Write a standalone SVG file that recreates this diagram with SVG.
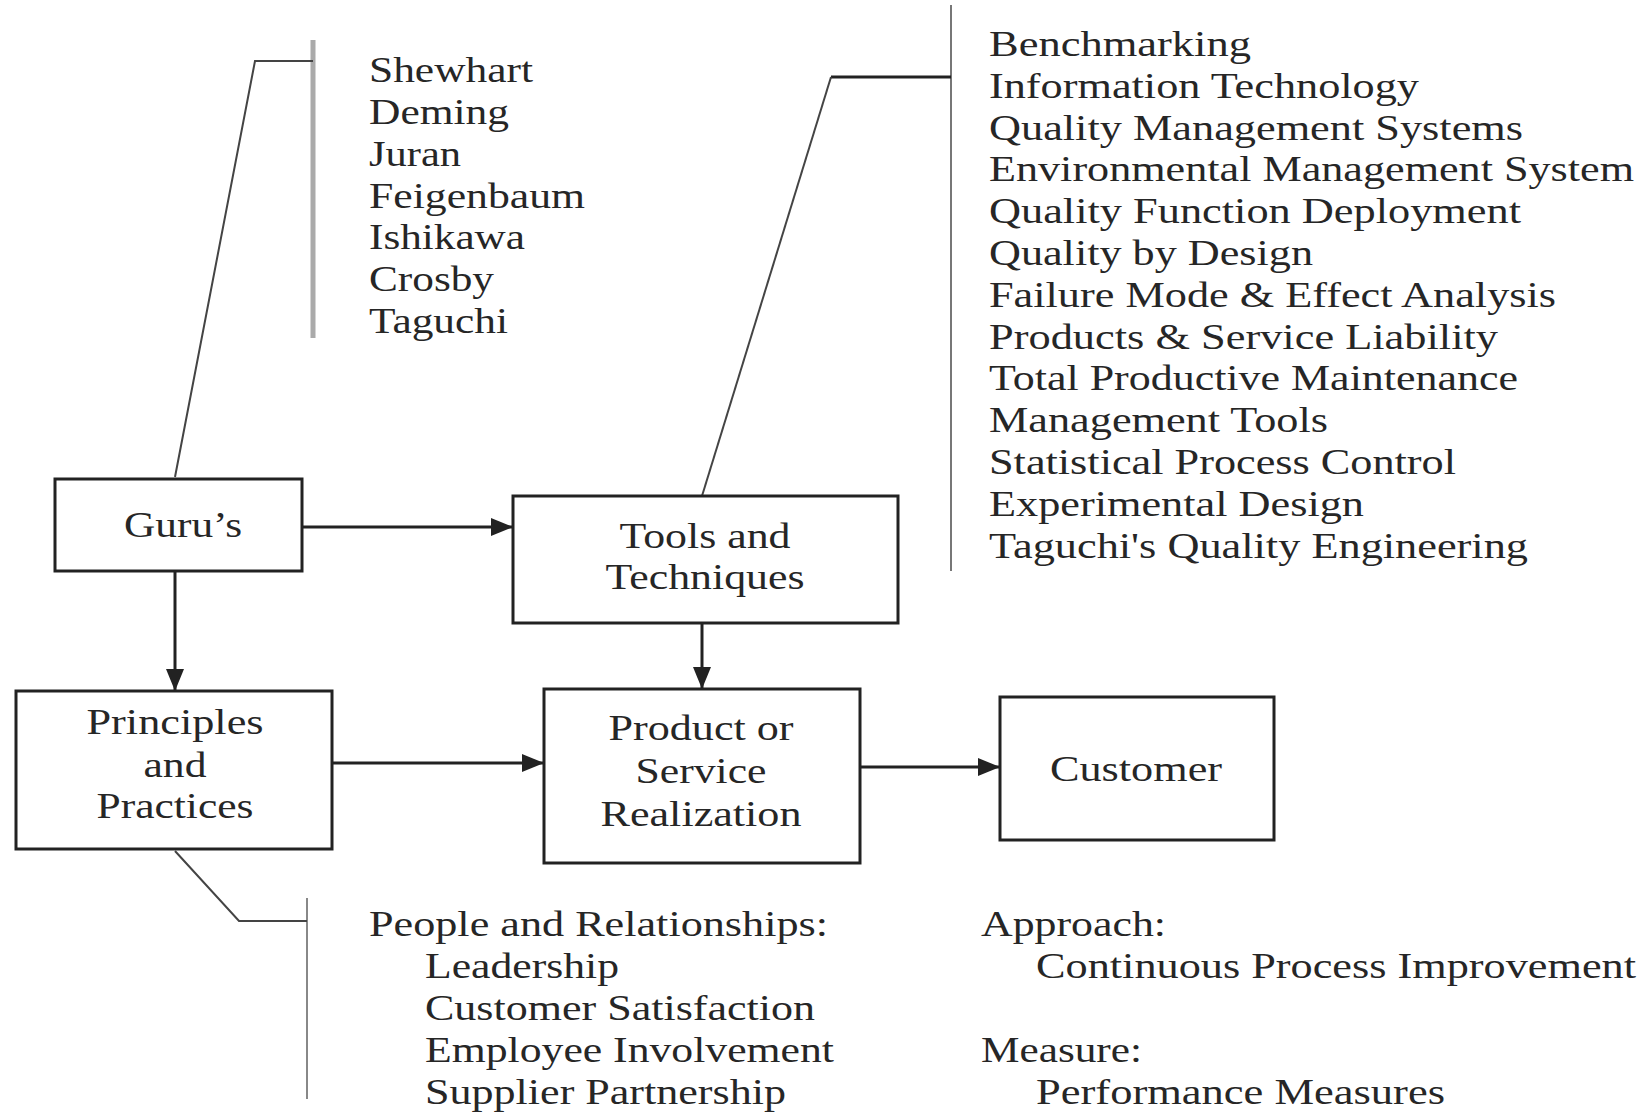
<svg xmlns="http://www.w3.org/2000/svg" width="1644" height="1115" viewBox="0 0 1644 1115">
<defs>
<marker id="arr" markerUnits="userSpaceOnUse" markerWidth="24" markerHeight="20" refX="22" refY="9" orient="auto">
<path d="M0,0 L22,9 L0,18 z" fill="#222"/>
</marker>
<style>
text{font-family:"Liberation Serif","Times New Roman",serif;font-size:36px;fill:#262626}
.mid{text-anchor:middle}
.box{fill:#fff;stroke:#222;stroke-width:3}
.conn{stroke:#222;stroke-width:3;fill:none}
.thin{stroke:#444;stroke-width:2;fill:none}
</style>
</defs>
<rect width="1644" height="1115" fill="#fff"/>

<g id="connectors">
<line class="conn" x1="302" y1="527" x2="513" y2="527" marker-end="url(#arr)"/>
<line class="conn" x1="175" y1="571" x2="175" y2="691" marker-end="url(#arr)"/>
<line class="conn" x1="702" y1="623" x2="702" y2="689" marker-end="url(#arr)"/>
<line class="conn" x1="332" y1="763" x2="544" y2="763" marker-end="url(#arr)"/>
<line class="conn" x1="860" y1="767" x2="1000" y2="767" marker-end="url(#arr)"/>
<!-- brackets -->
<line x1="313" y1="40" x2="313" y2="338" stroke="#aaa" stroke-width="5"/>
<polyline class="thin" points="313,61 255,61 175,477" stroke="#555"/>
<line x1="951" y1="5" x2="951" y2="571" stroke="#777" stroke-width="2"/>
<polyline points="951,77 831,77" stroke="#222" stroke-width="3" fill="none"/>
<line class="thin" x1="831" y1="77" x2="702" y2="496"/>
<line x1="307" y1="898" x2="307" y2="1099" stroke="#888" stroke-width="2"/>
<polyline class="thin" points="175,851 239,921 307,921" stroke="#666"/>
</g>

<g id="gurus">
<rect class="box" x="55" y="479" width="247" height="92"/>
<text class="mid" x="183" y="537" textLength="118" lengthAdjust="spacingAndGlyphs">Guru’s</text>
</g>

<g id="tools">
<rect class="box" x="513" y="496" width="385" height="127"/>
<text class="mid" x="705" y="548" textLength="171" lengthAdjust="spacingAndGlyphs">Tools and</text>
<text class="mid" x="705" y="589" textLength="199" lengthAdjust="spacingAndGlyphs">Techniques</text>
</g>

<g id="principles">
<rect class="box" x="16" y="691" width="316" height="158" stroke="#555"/>
<text class="mid" x="175" y="734" textLength="177" lengthAdjust="spacingAndGlyphs">Principles</text>
<text class="mid" x="175" y="777" textLength="63" lengthAdjust="spacingAndGlyphs">and</text>
<text class="mid" x="175" y="818" textLength="157" lengthAdjust="spacingAndGlyphs">Practices</text>
</g>

<g id="product">
<rect class="box" x="544" y="689" width="316" height="174"/>
<text class="mid" x="701" y="740" textLength="185" lengthAdjust="spacingAndGlyphs">Product or</text>
<text class="mid" x="701" y="783" textLength="131" lengthAdjust="spacingAndGlyphs">Service</text>
<text class="mid" x="701" y="826" textLength="201" lengthAdjust="spacingAndGlyphs">Realization</text>
</g>

<g id="customer">
<rect class="box" x="1000" y="697" width="274" height="143"/>
<text class="mid" x="1136" y="781" textLength="172" lengthAdjust="spacingAndGlyphs">Customer</text>
</g>

<g id="guru-list">
<text x="369" y="82" textLength="164" lengthAdjust="spacingAndGlyphs">Shewhart</text>
<text x="369" y="124" textLength="140" lengthAdjust="spacingAndGlyphs">Deming</text>
<text x="369" y="166" textLength="92" lengthAdjust="spacingAndGlyphs">Juran</text>
<text x="369" y="208" textLength="216" lengthAdjust="spacingAndGlyphs">Feigenbaum</text>
<text x="369" y="249" textLength="156" lengthAdjust="spacingAndGlyphs">Ishikawa</text>
<text x="369" y="291" textLength="125" lengthAdjust="spacingAndGlyphs">Crosby</text>
<text x="369" y="333" textLength="139" lengthAdjust="spacingAndGlyphs">Taguchi</text>
</g>

<g id="tools-list">
<text x="989" y="56" textLength="262" lengthAdjust="spacingAndGlyphs">Benchmarking</text>
<text x="989" y="98" textLength="430" lengthAdjust="spacingAndGlyphs">Information Technology</text>
<text x="989" y="140" textLength="534" lengthAdjust="spacingAndGlyphs">Quality Management Systems</text>
<text x="989" y="181" textLength="645" lengthAdjust="spacingAndGlyphs">Environmental Management System</text>
<text x="989" y="223" textLength="532" lengthAdjust="spacingAndGlyphs">Quality Function Deployment</text>
<text x="989" y="265" textLength="324" lengthAdjust="spacingAndGlyphs">Quality by Design</text>
<text x="989" y="307" textLength="567" lengthAdjust="spacingAndGlyphs">Failure Mode &amp; Effect Analysis</text>
<text x="989" y="349" textLength="509" lengthAdjust="spacingAndGlyphs">Products &amp; Service Liability</text>
<text x="989" y="390" textLength="529" lengthAdjust="spacingAndGlyphs">Total Productive Maintenance</text>
<text x="989" y="432" textLength="339" lengthAdjust="spacingAndGlyphs">Management Tools</text>
<text x="989" y="474" textLength="467" lengthAdjust="spacingAndGlyphs">Statistical Process Control</text>
<text x="989" y="516" textLength="375" lengthAdjust="spacingAndGlyphs">Experimental Design</text>
<text x="989" y="558" textLength="539" lengthAdjust="spacingAndGlyphs">Taguchi's Quality Engineering</text>
</g>

<g id="principles-list">
<text x="369" y="936" textLength="459" lengthAdjust="spacingAndGlyphs">People and Relationships:</text>
<text x="425" y="978" textLength="194" lengthAdjust="spacingAndGlyphs">Leadership</text>
<text x="425" y="1020" textLength="390" lengthAdjust="spacingAndGlyphs">Customer Satisfaction</text>
<text x="425" y="1062" textLength="409" lengthAdjust="spacingAndGlyphs">Employee Involvement</text>
<text x="425" y="1104" textLength="361" lengthAdjust="spacingAndGlyphs">Supplier Partnership</text>
<text x="981" y="936" textLength="185" lengthAdjust="spacingAndGlyphs">Approach:</text>
<text x="1036" y="978" textLength="600" lengthAdjust="spacingAndGlyphs">Continuous Process Improvement</text>
<text x="981" y="1062" textLength="161" lengthAdjust="spacingAndGlyphs">Measure:</text>
<text x="1036" y="1104" textLength="409" lengthAdjust="spacingAndGlyphs">Performance Measures</text>
</g>
</svg>
